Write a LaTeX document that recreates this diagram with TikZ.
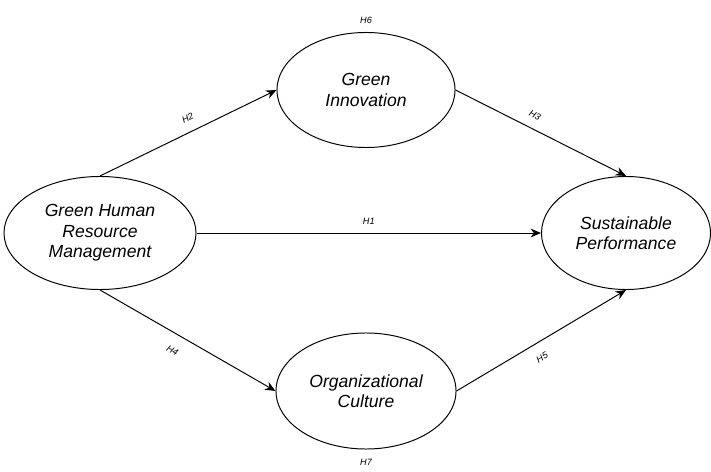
\documentclass[tikz,border=0pt]{standalone}
\usepackage{fontspec}
\setmainfont{Liberation Sans}
\usepackage{tikz}
\usetikzlibrary{shapes.geometric, arrows.meta, positioning}

\begin{document}
\begin{tikzpicture}[
    x=0.025cm, y=-0.025cm,
    construct/.style={ellipse, draw=black, line width=0.7pt, inner sep=1pt, font=\fontsize{12.5}{14.5}\selectfont\itshape, align=center},
    hyp/.style={font=\fontsize{6.5}{8}\selectfont\itshape, inner sep=1pt},
    path/.style={-{Stealth[length=2.6mm, width=2.2mm]}, line width=0.7pt}
]
    \useasboundingbox (0,0) rectangle (711,472);

    % Constructs
    \node[construct, minimum width=4.8cm, minimum height=2.825cm] (ghrm) at (100, 233) {Green Human\\Resource\\Management};
    \node[construct, minimum width=4.45cm, minimum height=2.875cm] (gi) at (366, 90) {Green\\Innovation};
    \node[construct, minimum width=4.5cm, minimum height=2.9cm] (oc) at (366, 391) {Organizational\\Culture};
    \node[construct, minimum width=4.225cm, minimum height=2.825cm] (sp) at (626, 233) {Sustainable\\Performance};

    % Mediation labels
    \node[hyp] (h6) at (366, 20) {H6};
    \node[hyp] (h7) at (366, 462) {H7};

    % Paths
    \draw[path] (ghrm.north) -- node[hyp, sloped, above=6pt, pos=0.53]{H2} (gi.west);
    \draw[path] (gi.east) -- node[hyp, sloped, above=6pt, pos=0.43]{H3} (sp.north);
    \draw[path] (ghrm.east) -- node[hyp, above=5pt]{H1} (sp.west);
    \draw[path] (ghrm.south) -- node[hyp, sloped, below=8pt, pos=0.46]{H4} (oc.west);
    \draw[path] (oc.east) -- node[hyp, sloped, below=7pt, pos=0.46]{H5} (sp.south);

\end{tikzpicture}
\end{document}
